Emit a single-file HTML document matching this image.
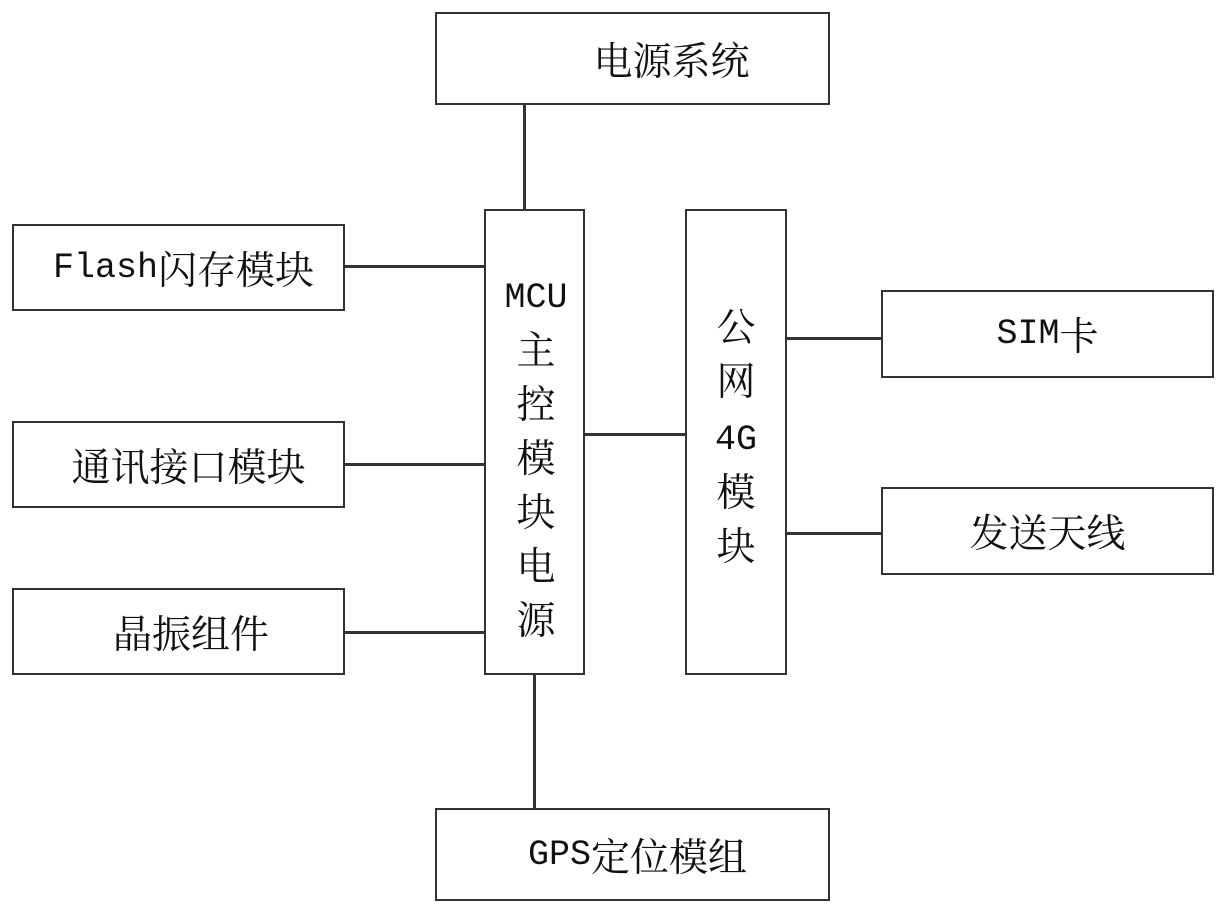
<!DOCTYPE html>
<html><head><meta charset="utf-8"><style>
html,body{margin:0;padding:0;background:#fff;}
body{width:1226px;height:913px;position:relative;overflow:hidden;font-family:"Liberation Serif","Noto Serif CJK SC",serif;color:#111;}
.b{position:absolute;border:2.5px solid #333;box-sizing:border-box;display:flex;align-items:center;justify-content:center;font-size:39px;background:#fff;white-space:nowrap;}
.m{font-family:"Liberation Mono",monospace;font-size:35px;}
.h{position:absolute;height:3px;background:#333;}
.v{position:absolute;width:3px;background:#333;}
.vt{position:absolute;font-size:39px;text-align:center;width:100px;}
</style></head><body>
<div class="v" style="left:523px;top:104px;height:106px"></div>
<div class="v" style="left:533px;top:672px;height:137px"></div>
<div class="h" style="left:343px;top:265px;width:142px"></div>
<div class="h" style="left:343px;top:463px;width:142px"></div>
<div class="h" style="left:343px;top:631px;width:142px"></div>
<div class="h" style="left:583px;top:433px;width:103px"></div>
<div class="h" style="left:785px;top:337px;width:97px"></div>
<div class="h" style="left:785px;top:532px;width:97px"></div>

<div class="b" style="left:435px;top:12px;width:395px;height:93px;padding-left:78px">电源系统</div>
<div class="b" style="left:12px;top:224px;width:333px;height:87px;padding-left:10px"><span class="m">Flash</span>闪存模块</div>
<div class="b" style="left:12px;top:421px;width:333px;height:87px;padding-left:20px">通讯接口模块</div>
<div class="b" style="left:12px;top:588px;width:333px;height:87px;padding-left:25px">晶振组件</div>
<div class="b" style="left:881px;top:290px;width:333px;height:88px"><span class="m">SIM</span>卡</div>
<div class="b" style="left:881px;top:487px;width:333px;height:88px">发送天线</div>
<div class="b" style="left:435px;top:808px;width:395px;height:93px;padding-left:10px"><span class="m">GPS</span>定位模组</div>
<div class="b" style="left:484px;top:209px;width:101px;height:466px"></div>
<div class="b" style="left:685px;top:209px;width:102px;height:466px"></div>
<div class="vt" style="left:486px;top:268px;line-height:54px"><span class="m">MCU</span><br>主<br>控<br>模<br>块<br>电<br>源</div>
<div class="vt" style="left:686px;top:302px;line-height:54px">公<br>网<br><span class="m">4G</span><br>模<br>块</div>
</body></html>
